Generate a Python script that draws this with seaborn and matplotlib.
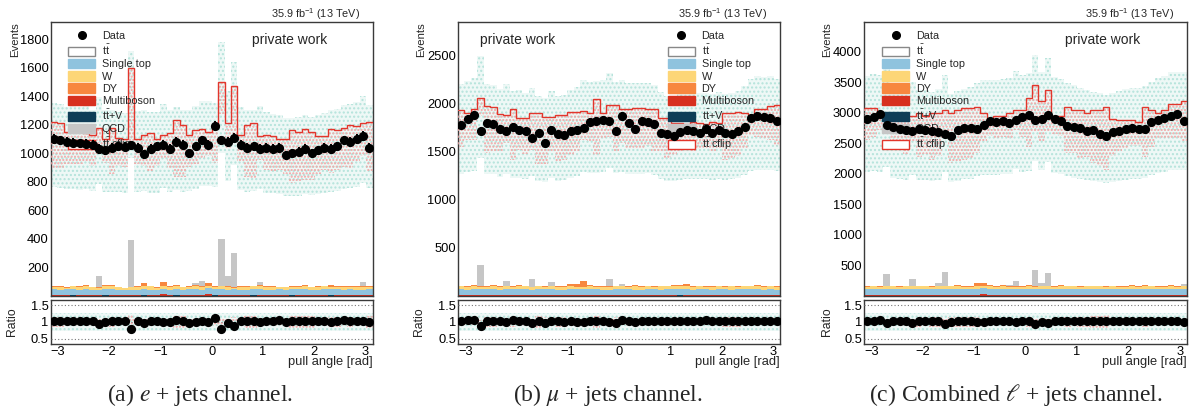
import numpy as np
import matplotlib
matplotlib.use("Agg")
import matplotlib.pyplot as plt
import seaborn as sns
from matplotlib.patches import Patch
from matplotlib.lines import Line2D
from matplotlib.ticker import MultipleLocator, FixedLocator

# ---------------- data (50 bins in pull angle, -pi..pi) ----------------
# panel (a): e + jets
data_a = [1100,1090,1080,1075,1070,1065,1060,1030,1020,1040,1050,1045,1055,1040,995,1030,1050,1060,1030,1080,
          1060,1000,1050,1090,1060,1190,1090,1080,1110,1060,1040,1050,1030,1040,1030,1040,985,1000,1010,1030,
          1000,1020,1040,1030,1050,1090,1080,1100,1120,1040]
tt_a = [988,983,977,971,967,961,954,947,942,942,945,947,947,940,930,935,945,949,949,954,
        954,949,954,964,974,988,988,983,979,964,949,945,938,935,932,925,911,906,911,915,
        915,922,930,938,954,974,983,993,998,979]
cflip_a = [1220,1210,1150,1160,1150,1140,1130,1180,1100,1180,1110,1100,1600,1100,1130,1140,1100,1130,1140,1230,
           1200,1130,1160,1170,1150,1180,1500,1210,1470,1130,1200,1210,1120,1130,1120,1100,1100,1160,1150,1170,
           1150,1120,1120,1170,1160,1180,1200,1190,1210,1220]
st_a = [40,38,39,41,37,40,39,38,40,42,38,39,37,40,41,39,38,40,39,41,38,40,39,37,40,39,41,38,40,39,
        38,41,40,39,38,40,37,39,41,40,38,39,40,38,41,39,40,38,39,40]
w_a = [18,22,12,20,24,21,18,15,20,22,19,10,16,20,18,22,14,20,16,24,15,18,22,20,14,19,21,17,12,20,
       18,22,25,21,19,16,20,18,15,22,20,17,21,19,16,20,18,22,20,17]
dy_a = [4,6,2,5,3,8,4,2,6,5,3,2,4,6,22,5,4,30,6,8,3,5,10,6,25,4,3,6,2,5,4,3,8,6,4,3,5,7,4,10,
        3,5,4,12,6,4,3,5,4,6]
vv_a = [3,2,4,3,2,5,3,2,4,3,2,3,4,2,5,3,4,8,3,2,4,3,5,2,10,3,2,4,3,2,4,3,5,2,3,4,2,3,4,3,
        2,4,3,5,2,3,4,3,2,3]
ttv_a = [3,2,3,4,3,3,2,3,4,3,3,2,3,3,4,3,2,3,3,4,3,3,2,3,3,4,3,2,3,3,3,4,2,3,3,3,2,4,3,3,
         3,2,3,4,3,3,2,3,3,3]
qcd_a = [0,0,0,0,0,0,0,80,0,0,0,0,330,0,0,0,0,0,0,0,0,0,10,35,0,0,330,70,240,0,
         0,0,20,0,0,0,0,0,0,0,0,0,0,0,0,0,0,0,30,0]

# panel (b): mu + jets
data_b = [1780,1840,1880,1720,1800,1790,1740,1720,1760,1730,1720,1640,1700,1590,1730,1680,1670,1720,1730,1750,
          1810,1820,1830,1820,1720,1870,1800,1740,1820,1810,1790,1700,1680,1660,1710,1730,1720,1700,1740,1700,
          1730,1700,1690,1720,1760,1850,1870,1860,1850,1820]
tt_b = [1632,1661,1671,1642,1632,1622,1593,1583,1583,1574,1554,1535,1525,1515,1535,1535,1544,1564,1583,1612,
        1642,1656,1661,1651,1642,1651,1642,1632,1642,1642,1622,1564,1535,1525,1544,1554,1559,1554,1559,1554,
        1559,1554,1554,1574,1612,1671,1690,1695,1690,1671]
cflip_b = [1930,1900,1950,2060,1980,1970,1890,1880,1950,1850,1850,1900,1900,1860,1860,1880,1880,1910,1910,1920,
           1900,2050,1900,1990,1990,1950,1950,1960,1960,1940,1940,1850,1850,1800,1800,1790,1810,1800,1790,1810,
           1800,1900,1900,1910,1900,1880,1950,1950,1980,1990]
st_b = [60,58,61,59,62,60,57,61,59,60,62,58,60,61,59,60,58,62,60,59,61,60,58,60,62,59,61,60,58,61,
        60,59,62,60,58,61,59,60,62,58,60,61,59,60,58,62,60,59,61,60]
w_b = [32,28,35,30,25,33,29,31,27,34,30,26,32,29,35,28,31,33,27,30,34,29,31,26,33,30,28,35,29,31,
       27,32,30,34,28,31,29,33,27,30,32,28,35,29,31,30,33,27,32,29]
dy_b = [8,6,10,5,7,9,6,8,5,7,10,6,8,7,5,9,6,20,30,60,8,6,7,9,5,8,6,10,7,5,8,9,6,7,12,20,8,6,5,7,
        9,6,8,10,7,6,9,5,8,7]
vv_b = [4,3,5,4,3,4,5,3,4,6,3,4,5,3,4,3,5,4,6,4,3,4,5,3,4,5,3,4,3,5,4,3,4,5,8,4,3,5,4,3,
        4,5,3,4,6,3,4,5,4,3]
ttv_b = [4,4,3,5,4,4,3,4,5,4,4,3,4,4,5,4,3,4,4,5,4,4,3,4,4,5,4,3,4,4,4,5,3,4,6,4,3,4,5,4,
         4,3,4,4,5,4,4,3,4,4]
qcd_b = [0,0,0,220,0,0,0,45,0,0,0,75,0,0,35,0,0,0,0,0,0,0,0,70,0,15,0,0,0,0,
         0,0,0,0,0,0,0,0,0,0,0,0,0,0,0,0,0,0,0,0]

# panel (c): combined l + jets
data_c = [2900,2930,2980,2800,2770,2740,2720,2700,2740,2720,2700,2690,2650,2620,2720,2750,2760,2740,2800,2860,
          2850,2870,2840,2880,2940,2960,2880,2900,2960,2900,2860,2790,2770,2760,2700,2720,2650,2630,2680,2710,
          2740,2760,2730,2740,2850,2880,2920,2950,2980,2870]
tt_c = [2655,2675,2665,2568,2519,2490,2476,2466,2471,2466,2451,2437,2422,2422,2451,2490,2505,2519,2548,2582,
        2602,2607,2612,2631,2665,2675,2655,2655,2665,2646,2607,2558,2524,2500,2471,2451,2422,2413,2432,2456,
        2480,2495,2495,2510,2578,2626,2660,2689,2704,2665]
cflip_c = [3080,3080,2950,2950,2900,2900,2950,2950,3000,2950,3000,3000,3050,3000,3050,3080,3080,3100,3000,2900,
           2950,2950,3000,3050,3050,3250,3450,3200,3380,2950,2950,3100,3050,3050,3000,3050,3050,3100,2900,2880,
           2880,2880,2850,3100,3050,3000,3050,3150,3150,3190]
st_c = [100,98,103,101,97,102,99,100,104,98,101,99,103,100,97,102,100,98,101,103,99,100,102,97,101,
        100,99,103,98,100,102,99,101,97,100,103,98,101,100,99,102,100,98,101,103,99,100,102,98,101]
w_c = [42,48,38,45,50,40,44,47,39,46,43,49,41,45,52,38,44,47,40,46,43,48,39,45,42,50,41,46,44,38,
       47,43,49,40,45,42,48,39,46,44,41,47,43,50,40,45,42,48,44,46]
dy_c = [12,10,15,8,11,14,9,12,10,13,8,11,14,10,12,9,13,40,50,15,10,12,9,14,11,10,13,12,8,11,
        14,10,12,9,13,10,15,11,9,12,10,14,11,13,10,12,9,11,14,10]
vv_c = [6,5,7,6,5,6,8,5,6,7,5,6,7,5,6,8,6,15,20,6,5,7,6,5,6,7,5,6,8,5,6,7,5,6,7,6,5,8,6,5,
        6,7,5,6,8,5,6,7,6,5]
ttv_c = [6,6,5,7,6,6,5,6,7,6,6,5,6,6,7,6,5,6,6,7,6,6,5,6,6,7,6,5,6,6,6,7,5,6,6,6,5,7,6,6,
         6,5,6,7,6,6,5,6,6,6]
qcd_c = [0,0,0,190,0,0,0,110,0,0,0,40,230,0,0,0,0,0,0,0,0,0,15,85,0,0,260,40,215,0,
         0,0,0,0,0,0,0,0,0,0,0,0,0,0,0,0,0,0,0,30]

rel_unc = [0.28, 0.27, 0.28]          # systematic band (relative)
x_ticks = [-3, -2, -1, 0, 1, 2, 3]
ratio_ticks = [0.5, 1.0, 1.5]
ratio_ticklabels = ["0.5", "1", "1.5"]
legend_labels = ["Data", r"$\mathregular{t\bar{t}}$", "Single top", "W", "DY", "Multiboson",
                 r"$\mathregular{t\bar{t}}$+V", "QCD", r"$\mathregular{t\bar{t}}$ cflip"]
captions = [r"(a) $e$ + jets channel.", r"(b) $\mu$ + jets channel.", r"(c) Combined $\ell$ + jets channel."]

# ---------------- style ----------------
sns.set_theme(style="white")
plt.rcParams["font.family"] = ["Liberation Sans", "DejaVu Sans"]
plt.rcParams["mathtext.fontset"] = "custom"
plt.rcParams["mathtext.rm"] = "Liberation Sans"
plt.rcParams["mathtext.it"] = "Liberation Sans:italic"
plt.rcParams["mathtext.bf"] = "Liberation Sans:bold"
plt.rcParams["hatch.linewidth"] = 1.0
plt.rcParams["axes.unicode_minus"] = True

C_ST, C_W, C_DY, C_VV, C_TTV, C_QCD = "#8fc3de", "#fdd677", "#f7873f", "#d7301f", "#0f3d57", "#c6c6c6"
C_RED = "#e2362c"
TEAL_FACE, TEAL_HATCH = "#eef8f6", "#b4e3db"
RED_HATCH = "#f4a3a3"

W, H = 1195, 416
fig = plt.figure(figsize=(W / 100, H / 100), dpi=100)

def px_axes(l, r, t, b):
    return fig.add_axes([l / W, 1 - b / H, (r - l) / W, (b - t) / H])

edges = np.linspace(-np.pi, np.pi, 51)
centers = 0.5 * (edges[:-1] + edges[1:])
halfw = 0.5 * (edges[1] - edges[0])

panels = [
    dict(data=data_a, tt=tt_a, cflip=cflip_a,
         bkg=[(ttv_a, C_TTV), (vv_a, C_VV), (st_a, C_ST), (w_a, C_W), (dy_a, C_DY), (qcd_a, C_QCD)],
         L=50.7, R=372.7, ylim=1920, yticks=list(range(200, 1801, 200)), yminor=40,
         leg_x=0.054, pw_x=0.625, ev_x=-0.095, ra_x=-0.10, unc=rel_unc[0], cap_x=200),
    dict(data=data_b, tt=tt_b, cflip=cflip_b,
         bkg=[(ttv_b, C_TTV), (vv_b, C_VV), (st_b, C_ST), (w_b, C_W), (dy_b, C_DY), (qcd_b, C_QCD)],
         L=458, R=780, ylim=2850, yticks=list(range(500, 2501, 500)), yminor=100,
         leg_x=0.652, pw_x=0.068, ev_x=-0.10, ra_x=-0.102, unc=rel_unc[1], cap_x=608),
    dict(data=data_c, tt=tt_c, cflip=cflip_c,
         bkg=[(ttv_c, C_TTV), (vv_c, C_VV), (st_c, C_ST), (w_c, C_W), (dy_c, C_DY), (qcd_c, C_QCD)],
         L=864, R=1187, ylim=4490, yticks=list(range(500, 4001, 500)), yminor=100,
         leg_x=0.056, pw_x=0.622, ev_x=-0.099, ra_x=-0.096, unc=rel_unc[2], cap_x=1016),
]

def style_axes(ax):
    for s in ax.spines.values():
        s.set_color("#3a3a3a")
        s.set_linewidth(1.0)
    ax.tick_params(which="both", direction="in", colors="#3a3a3a", labelcolor="black",
                   labelsize=9.3, pad=1.5)
    ax.tick_params(which="major", length=5)
    ax.tick_params(which="minor", length=2.5)

for k, p in enumerate(panels):
    axm = px_axes(p["L"], p["R"], 22, 296)
    axr = px_axes(p["L"], p["R"], 300, 344)
    data = np.array(p["data"], float)
    base = np.zeros(len(centers))
    for vals, col in p["bkg"]:
        top = base + np.array(vals, float)
        axm.stairs(top, edges, baseline=base, fill=True, color=col, lw=0, zorder=1)
        base = top
    mc = base + np.array(p["tt"], float)
    cflip = np.array(p["cflip"], float)
    unc = p["unc"]
    dev = np.abs(cflip - mc)

    # MC total outline (ttbar)
    axm.stairs(mc, edges, baseline=None, color="#7a7a7a", lw=0.8, zorder=2)
    # systematic band
    axm.stairs(mc * (1 + unc), edges, baseline=mc * (1 - unc), fill=True,
               facecolor=TEAL_FACE, edgecolor=TEAL_HATCH, hatch="....", lw=0, zorder=2.5)
    # cflip band + step
    axm.stairs(mc + dev, edges, baseline=mc - dev, fill=True,
               facecolor="none", edgecolor=RED_HATCH, hatch=".....", lw=0, zorder=3)
    axm.stairs(cflip, edges, baseline=None, color=C_RED, lw=1.0, zorder=3.5)
    # data
    axm.errorbar(centers, data, yerr=np.sqrt(data), xerr=halfw, fmt="none",
                 ecolor="black", elinewidth=1.4, capsize=0, zorder=6)
    sns.scatterplot(x=centers, y=data, ax=axm, color="black", s=44, linewidth=0,
                    zorder=7, legend=False)

    axm.set_xlim(-np.pi, np.pi)
    axm.set_ylim(0, p["ylim"])
    axm.xaxis.set_major_locator(FixedLocator(x_ticks))
    axm.xaxis.set_minor_locator(MultipleLocator(0.2))
    axm.yaxis.set_major_locator(FixedLocator(p["yticks"]))
    axm.yaxis.set_minor_locator(MultipleLocator(p["yminor"]))
    axm.set_xticklabels([])
    style_axes(axm)
    axm.set_xlabel("")
    axm.set_ylabel("Events", loc="top", fontsize=8.2)
    axm.yaxis.set_label_coords(p["ev_x"], 1.0)

    # legend
    handles = [Line2D([0], [0], marker="o", color="black", lw=0, markersize=5.5),
               Patch(facecolor="white", edgecolor="#888888", lw=1.0),
               Patch(facecolor=C_ST, edgecolor=C_ST), Patch(facecolor=C_W, edgecolor=C_W),
               Patch(facecolor=C_DY, edgecolor=C_DY), Patch(facecolor=C_VV, edgecolor=C_VV),
               Patch(facecolor=C_TTV, edgecolor=C_TTV), Patch(facecolor=C_QCD, edgecolor=C_QCD),
               Patch(facecolor="white", edgecolor=C_RED, lw=1.0)]
    leg = axm.legend(handles, legend_labels, loc="upper left", bbox_to_anchor=(p["leg_x"], 0.968),
                     frameon=False, fontsize=7.8, handlelength=2.5, handleheight=0.95,
                     labelspacing=0.17, handletextpad=0.6, borderpad=0, borderaxespad=0)
    leg.set_zorder(5)

    axm.text(p["pw_x"], 0.934, "private work", transform=axm.transAxes, fontsize=10,
             ha="left", va="center", zorder=8)
    axm.text((p["R"] - 13 - p["L"]) / (p["R"] - p["L"]), 1.029, r"35.9 fb$^{-1}$ (13 TeV)",
             transform=axm.transAxes, fontsize=7.8, ha="right", va="center")

    # ratio panel
    ratio = data / mc
    rerr = np.sqrt(data) / mc
    ones = np.ones_like(mc)
    axr.stairs(ones * (1 + unc), edges, baseline=ones * (1 - unc), fill=True,
               facecolor=TEAL_FACE, edgecolor=TEAL_HATCH, hatch="....", lw=0, zorder=1)
    axr.stairs(1 + dev / mc, edges, baseline=1 - dev / mc, fill=True,
               facecolor="none", edgecolor=RED_HATCH, hatch=".....", lw=0, zorder=2)
    for yv in ratio_ticks:
        axr.axhline(yv, color="#777777", ls=(0, (1, 2)), lw=0.8, zorder=3)
    axr.errorbar(centers, ratio, yerr=rerr, xerr=halfw, fmt="none", ecolor="black",
                 elinewidth=1.4, capsize=0, zorder=6)
    sns.scatterplot(x=centers, y=ratio, ax=axr, color="black", s=44, linewidth=0,
                    zorder=7, legend=False)
    axr.set_xlim(-np.pi, np.pi)
    axr.set_ylim(0.35, 1.65)
    axr.xaxis.set_major_locator(FixedLocator(x_ticks))
    axr.xaxis.set_minor_locator(MultipleLocator(0.2))
    axr.yaxis.set_major_locator(FixedLocator(ratio_ticks))
    axr.yaxis.set_minor_locator(MultipleLocator(0.1))
    axr.set_yticklabels(ratio_ticklabels)
    style_axes(axr)
    axr.set_ylabel("Ratio", fontsize=8.8)
    axr.yaxis.set_label_coords(p["ra_x"], 0.5)
    axr.set_xlabel("pull angle [rad]", loc="right", fontsize=9.3)
    axr.xaxis.set_label_coords(1.0, -0.28)

    fig.text(p["cap_x"] / W, 1 - 395 / H, captions[k], ha="center", va="center",
             fontsize=17, family=["Liberation Serif", "DejaVu Serif"], math_fontfamily="stix")

fig.savefig("out.png", dpi=100)
